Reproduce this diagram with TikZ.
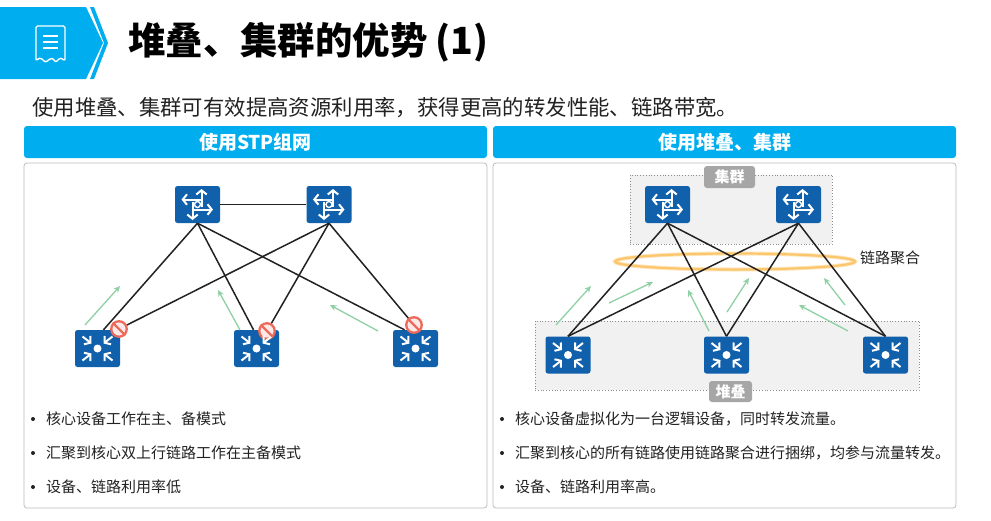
\documentclass[tikz,border=0pt]{standalone}
\usepackage{fontspec}
\setmainfont{Noto Sans CJK SC}
\usetikzlibrary{arrows.meta,shapes.geometric,calc}
\definecolor{hwblue}{HTML}{00AEEF}
\definecolor{devblue}{HTML}{1060AC}
\definecolor{flowgreen}{HTML}{8FD0A4}
\definecolor{linkdark}{HTML}{222222}
\definecolor{panelline}{HTML}{BDBDBD}
\definecolor{zonefill}{HTML}{F1F1F1}
\definecolor{zoneline}{HTML}{8C8C8C}
\definecolor{tagfill}{HTML}{A6A6A6}
\definecolor{lagorange}{HTML}{FBC66C}
\definecolor{stopred}{HTML}{EC6A5C}
\newcommand{\fs}[1]{\fontsize{#1}{#1}\selectfont}
\tikzset{
  x=1pt,y=-1pt,
  panelbox/.style={draw=panelline,line width=0.8pt,fill=white,rounded corners=3pt,minimum width=463pt,minimum height=345pt,inner sep=0pt},
  headbox/.style={fill=hwblue,rounded corners=3pt,minimum width=463pt,minimum height=32pt,inner sep=0pt,text=white,font=\fs{19}\bfseries},
  device/.style={fill=devblue,rounded corners=2.5pt,minimum width=45pt,minimum height=37pt,inner sep=0pt},
  link/.style={draw=linkdark,line width=1.5pt},
  flow/.style={draw=flowgreen,line width=1.3pt,-{Stealth[length=6.5pt,width=6pt]}},
  stopsign/.style={circle,draw=stopred,line width=2.3pt,fill=white!85!stopred,minimum size=15.5pt,inner sep=0pt},
  zone/.style={draw=zoneline,dotted,line width=0.8pt,fill=zonefill,inner sep=0pt},
  tagbox/.style={fill=tagfill,rounded corners=3pt,inner sep=0pt,text=white,font=\fs{15}\bfseries},
  bullettext/.style={anchor=west,inner sep=0pt,font=\fs{15},text=linkdark},
  glyph/.style={draw=white,line width=2pt,-{Straight Barb[length=4.2pt,width=10.5pt,line width=2pt]}},
  routerglyph/.pic={
    \draw[glyph] (3,-5) -- (-16,-5);
    \draw[glyph] (4,2) -- (4,-15.5);
    \draw[glyph] (-6,5) -- (15.5,5);
    \draw[glyph] (-5,-3) -- (-5,15.5);
    \draw[white,line width=1.4pt,fill=devblue] (0,0) circle (3);
  },
  switchglyph/.pic={
    \draw[glyph] (-15,-12) -- (-6,-5);
    \draw[glyph] (15,-12) -- (6,-5);
    \draw[glyph] (-15,12) -- (-6,5);
    \draw[glyph] (15,12) -- (6,5);
    \fill[white] (0,0) circle (4);
  },
}
\begin{document}
\begin{tikzpicture}
\useasboundingbox (0,0) rectangle (991,520);
\fill[white] (0,0) rectangle (991,520);

% banner
\fill[hwblue] (0,7) -- (86,7) -- (103,43) -- (86,79) -- (0,79) -- cycle;
\fill[hwblue] (90,7) -- (94,7) -- (108,43) -- (94,79) -- (90,79) -- (104,43) -- cycle;
\draw[white,line width=1.4pt,rounded corners=1.5pt,line join=round]
  (36,26) -- (65,26) -- (65,61) .. controls (62,58) and (60,58) .. (58,60)
  .. controls (55,63) and (53,58) .. (50.5,59) .. controls (48,60) and (46,63) .. (43,60)
  .. controls (41,58) and (38,58) .. (36,61) -- cycle;
\draw[white,line width=1.3pt] (43,36) -- (58,36) (43,42) -- (58,42) (43,48) -- (58,48);

\node[anchor=west,inner sep=0pt,font=\fs{37.4}\bfseries] (title) at (128,42) {堆叠、集群的优势 (1)};
\node[anchor=west,inner sep=0pt,font=\fs{21.4},text=linkdark] (intro) at (32,108) {使用堆叠、集群可有效提高资源利用率，获得更高的转发性能、链路带宽。};

% panels
\node[panelbox] (pl) at (255.5,335.5) {};
\node[panelbox] (pr) at (724.5,335.5) {};
\node[headbox] (hl) at (255.5,142) {使用STP组网};
\node[headbox] (hr) at (724.5,142) {使用堆叠、集群};

% left devices
\node[device] (lr1) at (197.5,204.5) {};
\node[device] (lr2) at (329,204.5) {};
\node[device] (ls1) at (97.5,348.5) {};
\node[device] (ls2) at (256.5,348.5) {};
\node[device] (ls3) at (415.5,348.5) {};
\node[stopsign] (x1) at (119,329) {};
\node[stopsign] (x2) at (267,331) {};
\node[stopsign] (x3) at (414,325) {};

\draw[link] (lr1.east) -- (lr2.west);
\draw[link] (lr1.south) -- ([xshift=6pt]ls1.north);
\draw[link] (lr1.south) -- ([xshift=-3pt]ls2.north);
\draw[link] (lr1.south) -- ([xshift=-11pt]ls3.north);
\draw[link] (lr2.south) -- (x1);
\draw[link] (lr2.south) -- (x2);
\draw[link] (lr2.south) -- (x3);
\pic at (lr1) {routerglyph}; \pic at (lr2) {routerglyph};
\pic at (ls1) {switchglyph}; \pic at (ls2) {switchglyph}; \pic at (ls3) {switchglyph};
\foreach \s in {x1,x2,x3}{
  \draw[stopred,line width=2.3pt] (\s.135) -- (\s.-45);
}
\coordinate (fa1) at (85,325); \coordinate (fa2) at (120,286);
\coordinate (fb1) at (240,330); \coordinate (fb2) at (218,290);
\coordinate (fc1) at (378,331); \coordinate (fc2) at (330,305);
\draw[flow] (fa1) -- (fa2);
\draw[flow] (fb1) -- (fb2);
\draw[flow] (fc1) -- (fc2);

% right zones
\node[zone,minimum width=202pt,minimum height=69pt] (cluster) at (731,209.5) {};
\node[zone,minimum width=384pt,minimum height=69pt] (stack) at (727,355.5) {};

\node[ellipse,draw=lagorange!45,line width=4pt,minimum width=240pt,minimum height=16pt,inner sep=0pt] (lagh) at (735,261.5) {};
\node[ellipse,draw=lagorange,line width=2.2pt,minimum width=240pt,minimum height=16pt,inner sep=0pt] (lag) at (735,261.5) {};
\node[anchor=west,inner sep=0pt,font=\fs{15},text=linkdark] (laglabel) at (860,258) {链路聚合};

\node[device] (rr1) at (667.5,204.5) {};
\node[device] (rr2) at (798.5,204.5) {};
\node[device] (rs1) at (568,355) {};
\node[device] (rs2) at (726.5,355) {};
\node[device] (rs3) at (885.5,355) {};
\draw[link] (rr1.south) -- (rs1.north);
\draw[link] (rr1.south) -- (rs2.north);
\draw[link] (rr1.south) -- (rs3.north);
\draw[link] (rr2.south) -- (rs1.north);
\draw[link] (rr2.south) -- (rs2.north);
\draw[link] (rr2.south) -- (rs3.north);
\pic at (rr1) {routerglyph}; \pic at (rr2) {routerglyph};
\pic at (rs1) {switchglyph}; \pic at (rs2) {switchglyph}; \pic at (rs3) {switchglyph};

\node[tagbox,minimum width=51pt,minimum height=22pt] (tagc) at (729.5,177) {集群};
\node[tagbox,minimum width=43pt,minimum height=21pt] (tags) at (730.5,391.5) {堆叠};

\coordinate (ga1) at (556,325); \coordinate (ga2) at (591,286);
\coordinate (gb1) at (609,303); \coordinate (gb2) at (653,282);
\coordinate (gc1) at (709,331); \coordinate (gc2) at (688,290);
\coordinate (gd1) at (727,312); \coordinate (gd2) at (749,278);
\coordinate (ge1) at (848,331); \coordinate (ge2) at (799,305);
\coordinate (gf1) at (845,305); \coordinate (gf2) at (824,278);
\draw[flow] (ga1) -- (ga2);
\draw[flow] (gb1) -- (gb2);
\draw[flow] (gc1) -- (gc2);
\draw[flow] (gd1) -- (gd2);
\draw[flow] (ge1) -- (ge2);
\draw[flow] (gf1) -- (gf2);

% bullets
\foreach \bx/\by in {33/419,33/453,33/487,502/419,502/453,502/487}{
  \fill[linkdark] (\bx,\by) circle (2);
}
\node[bullettext] (l1) at (46,419) {核心设备工作在主、备模式};
\node[bullettext] (l2) at (46,453) {汇聚到核心双上行链路工作在主备模式};
\node[bullettext] (l3) at (46,487) {设备、链路利用率低};
\node[bullettext] (r1) at (515,419) {核心设备虚拟化为一台逻辑设备，同时转发流量。};
\node[bullettext] (r2) at (515,453) {汇聚到核心的所有链路使用链路聚合进行捆绑，均参与流量转发。};
\node[bullettext] (r3) at (515,487) {设备、链路利用率高。};
\end{tikzpicture}
\end{document}
